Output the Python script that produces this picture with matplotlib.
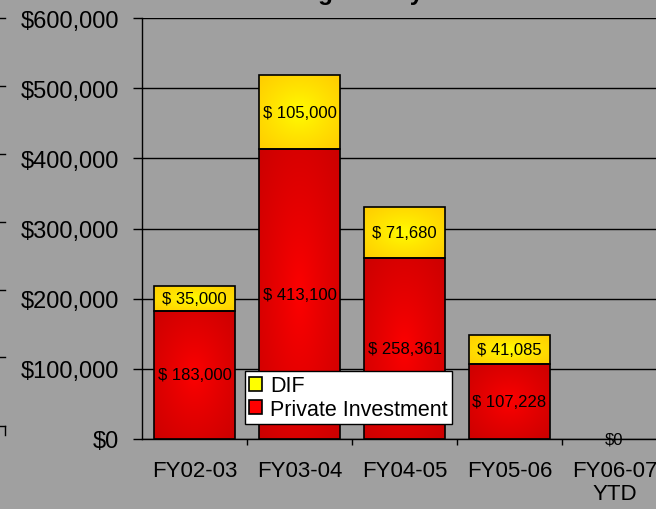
import numpy as np
import matplotlib
matplotlib.use("Agg")
import matplotlib.pyplot as plt
from matplotlib.patches import Patch
from matplotlib.lines import Line2D
from matplotlib.ticker import FuncFormatter, FixedLocator

plt.rcParams["font.family"] = ["Liberation Sans", "DejaVu Sans"]

years = ["FY02-03", "FY03-04", "FY04-05", "FY05-06", "FY06-07\nYTD"]
private_inv = [183000, 413100, 258361, 107228, 0]
dif = [35000, 105000, 71680, 41085, 0]
title = "Funding History"

bg = "#a0a0a0"
red_c, red_e = np.array([1.0, 0.0, 0.0]), np.array([0.80, 0.0, 0.0])
yel_c, yel_e = np.array([1.0, 1.0, 0.0]), np.array([1.0, 0.80, 0.0])


def gradient(center, edge, n=80):
    u = np.linspace(-1, 1, n)
    uu, vv = np.meshgrid(u, u)
    d = np.clip(np.sqrt(uu ** 2 + vv ** 2) / np.sqrt(2), 0, 1) ** 0.8
    return center[None, None, :] * (1 - d[..., None]) + edge[None, None, :] * d[..., None]


fig = plt.figure(figsize=(6.56, 5.1), dpi=100, facecolor=bg)
ax = fig.add_axes([142 / 656, 70 / 510, 525 / 656, 421 / 510])
ax.set_facecolor(bg)

x = np.arange(len(years))
w = 0.77
b1 = ax.bar(x, private_inv, w, facecolor="none", edgecolor="black", lw=1.2, zorder=3)
b2 = ax.bar(x, dif, w, bottom=private_inv, facecolor="none", edgecolor="black", lw=1.2, zorder=3)

for bars, (c, e) in ((b1, (red_c, red_e)), (b2, (yel_c, yel_e))):
    for r in bars:
        if r.get_height() <= 0:
            r.set_edgecolor("none")
            continue
        x0, y0 = r.get_x(), r.get_y()
        ax.imshow(gradient(c, e), extent=[x0, x0 + r.get_width(), y0, y0 + r.get_height()],
                  aspect="auto", zorder=2, interpolation="bilinear")

ax.set_xlim(-0.5, len(years) - 0.5)
ax.set_ylim(0, 600000)
ax.set_aspect("auto")

# value labels
for i in range(len(years)):
    p, d = private_inv[i], dif[i]
    if p == 0 and d == 0:
        ax.text(x[i], 0, "$0", ha="center", va="center", fontsize=12, zorder=5)
        continue
    ax.text(x[i], p / 2, f"$ {p:,}", ha="center", va="center", fontsize=12, zorder=5)
    ax.text(x[i], p + d / 2, f"$ {d:,}", ha="center", va="center", fontsize=12, zorder=5)

# axes styling
for s in ("top", "right"):
    ax.spines[s].set_visible(False)
for s in ("left", "bottom"):
    ax.spines[s].set_color("black")
    ax.spines[s].set_linewidth(1.0)

ax.yaxis.set_major_locator(FixedLocator(np.arange(0, 600001, 100000)))
ax.yaxis.set_major_formatter(FuncFormatter(lambda v, _: f"${v:,.0f}"))
ax.tick_params(axis="y", direction="out", length=6.5, width=1, color="black",
               labelsize=17, pad=10)
ax.yaxis.grid(True, color="black", lw=1.0)
ax.set_axisbelow(True)

ax.set_xticks(x)
ax.set_xticklabels(years, fontsize=16, linespacing=1.15)
ax.set_xticks(np.arange(0.5, len(years) - 0.5, 1), minor=True)
ax.tick_params(axis="x", which="major", length=0, pad=15)
ax.tick_params(axis="x", which="minor", direction="out", length=4, width=1, color="black")

# legend
handles = [Patch(facecolor="#ffff00", edgecolor="black", lw=1.2, label="DIF"),
           Patch(facecolor="#ff0000", edgecolor="black", lw=1.2, label="Private Investment")]
leg = fig.legend(handles=handles, loc="upper left", bbox_to_anchor=(245 / 656, 1 - 372 / 510),
                 fontsize=15.5, frameon=True, fancybox=False, edgecolor="black",
                 facecolor="white", framealpha=1, borderpad=0.2, labelspacing=0.12,
                 handlelength=0.6, handleheight=0.6, handletextpad=0.35, borderaxespad=0)
leg.get_frame().set_linewidth(1.0)

# title cut off by the top edge of the picture, as in the source image
fig.text(330 / 656, 1.0, title, ha="center", va="baseline", fontsize=17.5,
         fontweight="bold")

# leftover axis ticks of the neighbouring chart at the left edge
for yp in (19, 87, 155, 223, 291, 358, 427):
    fig.add_artist(Line2D([0, 5 / 656], [1 - yp / 510] * 2, color="black", lw=1,
                          transform=fig.transFigure))
fig.add_artist(Line2D([5 / 656] * 2, [1 - 427 / 510, 1 - 436 / 510], color="black", lw=1,
                      transform=fig.transFigure))

fig.savefig("out.png", dpi=100, facecolor=bg)
